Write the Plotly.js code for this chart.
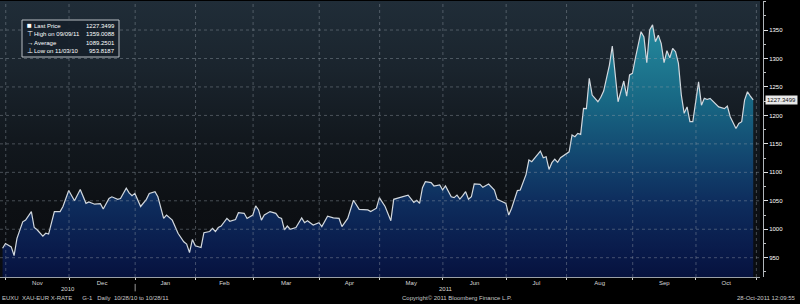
<!DOCTYPE html>
<html>
<head>
<meta charset="utf-8">
<script src="https://cdn.plot.ly/plotly-3.0.1.min.js"></script>
<style>
  html, body { margin: 0; padding: 0; background: #000; }
  #wrap { position: relative; width: 800px; height: 304px; overflow: hidden; background: #000; }
  #bg { position: absolute; left: 0; top: 1px; width: 760px; height: 276px;
        background: linear-gradient(to bottom, #202d38 0%, #1a242d 25%, #12181e 50%, #0d1014 75%, #0a0c10 100%); }
  #chart { position: absolute; left: 0; top: 0; width: 800px; height: 304px; }
</style>
</head>
<body>
<div id="wrap"><div id="bg"></div><div id="chart"></div></div>
<script>
// ---- data (XAU-EUR daily, weekday index counted from 28 Oct 2010) ----
const startDate = '2010-10-28';
const endDate = '2011-11-01';
const tradingDay = [0,1,3,4,5,7,8,10,11,12,14,15,16,18,20,21,23,25,27,29,30,32,34,35,37,38,40,41,43,44,45,46,48,50,51,53,54,56,57,59,61,63,64,65,66,67,69,70,72,73,74,75,76,78,79,81,82,84,85,87,88,89,90,91,93,95,96,97,98,99,100,102,104,105,106,108,110,111,113,115,117,118,120,122,124,127,128,130,131,133,135,136,138,140,141,143,144,145,146,147,149,150,152,153,154,156,157,158,159,160,161,162,163,164,166,167,169,171,172,174,175,176,177,179,180,182,183,184,185,187,188,189,190,191,192,193,194,196,197,198,199,200,201,202,203,204,205,207,208,209,210,211,212,213,214,216,217,218,219,220,222,223,224,225,226,227,228,229,230,231,232,233,234,235,236,237,238,239,240,242,243,244,245,246,248,249,251,252,253,255,256,257,258,259,260,261];
const price = [966.5,975,969,953.8,984,1013,1016,1031,1003,999,988,993,991.6,1031,1031,1040,1068,1050,1070,1045.5,1048,1044,1045,1035.5,1054,1057,1052.6,1054,1072,1064,1059,1063,1040,1052.6,1063,1066,1057,1019,1025,1016,993,978,974,959,982,971,968,994,996,1001.6,996,1003,1005.6,1019,1014,1017,1029,1028,1019,1025,1041,1034,1016,1025,1031,1028,1021,1019,999,1005.6,1000,1003,1020,1011.6,1015,1007.5,1011.6,1004.6,1023,1020,1019,1004.6,1019,1051,1035,1034,1031,1037,1055.5,1040,1015,1052.6,1055.5,1058.4,1060,1047,1051,1045.5,1073,1083.5,1082,1076,1078,1069,1076,1057,1055.5,1060,1053,1059,1066,1052.6,1057,1079.5,1079,1073.6,1079.5,1069,1052.6,1048,1045.5,1025,1037,1068,1069,1096,1121.6,1118.7,1125.6,1137.4,1125.6,1127.4,1105,1117,1123,1117.6,1125.6,1131.6,1136,1165.5,1162.6,1168.5,1166.7,1212.4,1212,1265,1235.8,1224,1231.8,1242.8,1268,1288.5,1322,1274,1224,1260.4,1234,1271,1274,1300,1347,1338,1292.6,1350,1359,1329.5,1341,1326.6,1292.6,1313.6,1301.3,1317.8,1312,1291.5,1235.8,1203.6,1215,1189,1189,1259,1218,1230,1228,1230,1221,1215,1212,1216.5,1197.7,1177,1186,1189,1227,1241.6,1234,1227.3499];
const monthLabels = ['Nov','Dec','Jan','Feb','Mar','Apr','May','Jun','Jul','Aug','Sep','Oct'];
const yearLabels = ['2010','2011'];
const yTicks = [950,1000,1050,1100,1150,1200,1250,1300,1350];
const legendIcons = ['\u25A0','\u22A4','\u2192','\u22A5'];
const legendLabels = ['Last Price','High on 09/09/11','Average','Low on 11/03/10'];
const legendValues = ['1227.3499','1359.0088','1089.2501','953.8187'];
const lastPriceText = '1227.3499';
const lastPriceValue = 1227.3499;
const footerLeft = 'EUXU\u00a0\u00a0XAU-EUR X-RATE\u00a0\u00a0\u00a0\u00a0\u00a0\u00a0G-1\u00a0\u00a0\u00a0Daily\u00a0\u00a010/28/10 to 10/28/11';
const footerMid = 'Copyright\u00a9 2011 Bloomberg Finance L.P.';
const footerRight = '28-Oct-2011 12:09:55';

// ---- month boundaries from the weekday calendar ----
const boundaryShift = 0.9;
const boundaries = [];
const boundaryYears = [];
(function () {
  const d = new Date(startDate + 'T00:00:00Z');
  const end = new Date(endDate + 'T00:00:00Z');
  let idx = 0, lastMonth = d.getUTCMonth();
  while (d <= end) {
    const wd = d.getUTCDay();
    if (wd !== 0 && wd !== 6) {
      if (d.getUTCMonth() !== lastMonth) {
        boundaries.push(idx - boundaryShift);
        boundaryYears.push(d.getUTCFullYear());
        lastMonth = d.getUTCMonth();
      }
      idx++;
    }
    d.setUTCDate(d.getUTCDate() + 1);
  }
})();
const monthMid = [];
for (let i = 0; i < boundaries.length - 1; i++) monthMid.push((boundaries[i] + boundaries[i + 1]) / 2);

const xRange = [-0.9, 263.36];
const yRange = [916.1, 1401];
const yearStart = boundaries[boundaryYears.indexOf(2011)];
const yearMids = [(xRange[0] + yearStart) / 2, (yearStart + boundaries[boundaries.length - 1]) / 2];

const FONT = 'Liberation Sans, Arial, sans-serif';
const gridCol = 'rgba(150,160,170,0.42)';

const shapes = [];
yTicks.forEach(v => shapes.push({type:'line', xref:'x domain', yref:'y', x0:0, x1:1, y0:v, y1:v,
  line:{color:gridCol, width:1, dash:'dot'}, layer:'above'}));
boundaries.forEach(b => shapes.push({type:'line', xref:'x', yref:'y domain', x0:b, x1:b, y0:0, y1:1,
  line:{color:gridCol, width:1, dash:'dot'}, layer:'above'}));
// year separator tick under month labels
shapes.push({type:'line', xref:'x', yref:'paper', x0:yearStart, x1:yearStart, y0:-0.025, y1:-0.052,
  line:{color:'#9a9a9a', width:1}});
// legend box
shapes.push({type:'rect', xref:'paper', yref:'paper', x0:22/763, x1:119/763, y0:(277-57)/276, y1:(277-20)/276,
  fillcolor:'rgba(22,32,42,0.92)', line:{color:'#b8bec4', width:1}, layer:'above'});

const annotations = [];
const rowY = [26, 34, 42.5, 50.5];
legendLabels.forEach((lab, i) => {
  const y = (277 - rowY[i]) / 276;
  annotations.push({xref:'paper', yref:'paper', x:24.5/763, y:y, xanchor:'left', yanchor:'middle', showarrow:false,
    text:legendIcons[i], font:{family:FONT, size:i===0?8:6.5, color:'#ffffff'}});
  annotations.push({xref:'paper', yref:'paper', x:32/763, y:y, xanchor:'left', yanchor:'middle', showarrow:false,
    text:lab, font:{family:FONT, size:6, color:'#ffffff'}});
  annotations.push({xref:'paper', yref:'paper', x:117/763, y:y, xanchor:'right', yanchor:'middle', showarrow:false,
    text:legendValues[i], font:{family:FONT, size:6, color:'#ffffff'}});
});
yearLabels.forEach((t, i) => annotations.push({xref:'x', yref:'paper', x:yearMids[i], y:(277-289)/276,
  xanchor:'center', yanchor:'middle', showarrow:false, text:t, font:{family:FONT, size:6, color:'#d8d8d8'}}));
annotations.push({xref:'paper', yref:'paper', x:0, y:(277-297.5)/276, xanchor:'left', yanchor:'middle', showarrow:false,
  text:footerLeft, font:{family:FONT, size:6, color:'#c8c8c8'}});
annotations.push({xref:'paper', yref:'paper', x:400/763, y:(277-297.5)/276, xanchor:'left', yanchor:'middle', showarrow:false,
  text:footerMid, font:{family:FONT, size:6, color:'#c8c8c8'}});
annotations.push({xref:'paper', yref:'paper', x:798/763, y:(277-297.5)/276, xanchor:'right', yanchor:'middle', showarrow:false,
  text:footerRight, font:{family:FONT, size:6, color:'#c8c8c8'}});
annotations.push({xref:'paper', yref:'y', x:765/763, y:lastPriceValue, xanchor:'left', yanchor:'middle', showarrow:false,
  text:lastPriceText, bgcolor:'#e8e8e8', borderpad:1, font:{family:FONT, size:6, color:'#111111'}});

const trace = {
  type:'scatter', mode:'lines', x:tradingDay, y:price,
  line:{color:'#d2d8de', width:1.2},
  fill:'tozeroy',
  fillgradient:{type:'vertical', start:yRange[0], stop:yRange[1], colorscale:[
    [0,'rgb(6,18,62)'],[0.09,'rgb(9,26,74)'],[0.28,'rgb(14,46,94)'],[0.42,'rgb(18,68,110)'],
    [0.64,'rgb(24,104,132)'],[0.9,'rgb(36,136,156)'],[1,'rgb(42,146,164)']]},
  hoverinfo:'skip'
};

const layout = {
  width:800, height:304,
  margin:{l:0, r:37, t:1, b:27, pad:0},
  paper_bgcolor:'rgba(0,0,0,0)', plot_bgcolor:'rgba(0,0,0,0)',
  showlegend:false,
  font:{family:FONT, size:6, color:'#ffffff'},
  xaxis:{range:xRange, domain:[0, 760/763], showgrid:false, zeroline:false,
    showline:true, linecolor:'#9aa0a6', linewidth:1,
    tickmode:'array', tickvals:monthMid, ticktext:monthLabels, ticks:'', ticklen:0,
    tickfont:{family:FONT, size:6, color:'#d8d8d8'},
    minor:{tickmode:'array', tickvals:boundaries, ticks:'outside', ticklen:2, tickcolor:'#d0d0d0', tickwidth:1, showgrid:false}},
  yaxis:{range:yRange, side:'right', anchor:'free', position:1, showgrid:false, zeroline:false,
    showline:true, linecolor:'#b0b6bb', linewidth:1,
    tickmode:'array', tickvals:yTicks, ticks:'outside', ticklen:4, tickcolor:'#e0e0e0',
    tickfont:{family:FONT, size:6, color:'#ffffff'},
    minor:{dtick:25, ticks:'outside', ticklen:2, tickcolor:'#c0c0c0', showgrid:false}},
  shapes:shapes, annotations:annotations
};

Plotly.newPlot('chart', [trace], layout, {staticPlot:true, displayModeBar:false});
</script>
</body>
</html>
